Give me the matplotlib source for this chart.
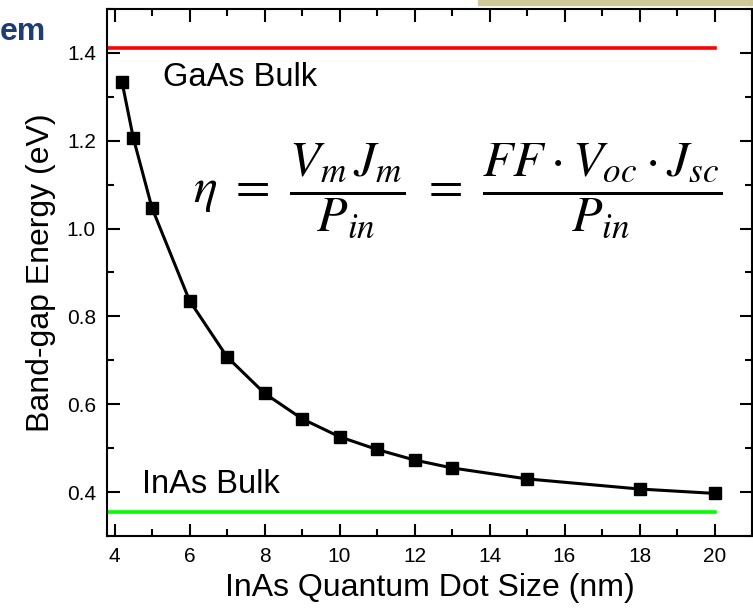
import matplotlib

matplotlib.use("Agg")
import matplotlib.pyplot as plt
from matplotlib.patches import Rectangle
from matplotlib.ticker import MultipleLocator

plt.rcParams["font.family"] = ["Liberation Sans", "DejaVu Sans"]
plt.rcParams["mathtext.fontset"] = "stix"

# InAs quantum dot size (nm) vs band-gap energy (eV)
dot_size = [4.2, 4.5, 5, 6, 7, 8, 9, 10, 11, 12, 13, 15, 18, 20]
band_gap = [1.334, 1.207, 1.047, 0.836, 0.708, 0.625, 0.567, 0.526,
            0.497, 0.473, 0.455, 0.430, 0.407, 0.397]

# bulk reference levels (eV)
gaas_bulk = 1.411
inas_bulk = 0.354
bulk_x = [3.8, 20]

W, H = 753, 616
fig = plt.figure(figsize=(W / 100, H / 100), dpi=100)
ax = fig.add_axes([107 / W, 1 - 536 / H, (752 - 107) / W, (536 - 9) / H])

ax.plot(bulk_x, [gaas_bulk] * 2, color="#ff0000", lw=2.6, zorder=1)
ax.plot(bulk_x, [inas_bulk] * 2, color="#00ff00", lw=2.6, zorder=1)
ax.plot(dot_size, band_gap, "-s", color="black", lw=2.2, ms=8,
        markerfacecolor="black", zorder=3)

ax.set_xlim(3.8, 21)
ax.set_ylim(0.3, 1.5)
ax.xaxis.set_major_locator(MultipleLocator(2))
ax.xaxis.set_minor_locator(MultipleLocator(1))
ax.yaxis.set_major_locator(MultipleLocator(0.2))
ax.yaxis.set_minor_locator(MultipleLocator(0.1))
ax.yaxis.set_major_formatter(plt.FuncFormatter(lambda v, p: f"{v:.1f}"))
ax.tick_params(which="both", direction="in", top=True, right=True, width=1.5)
ax.tick_params(which="major", length=9, labelsize=15, pad=8)
ax.tick_params(which="minor", length=5)
for s in ax.spines.values():
    s.set_linewidth(1.5)

ax.set_xlabel("InAs Quantum Dot Size (nm)", fontsize=23, labelpad=5)
ax.set_ylabel("Band-gap Energy (eV)", fontsize=23, labelpad=8)

ax.text(5.28, 1.344, "GaAs Bulk", fontsize=23.5, va="center", ha="left")
ax.text(4.73, 0.418, "InAs Bulk", fontsize=23.5, va="center", ha="left")

eq = (r"$\eta\ =\ \dfrac{V_m\,J_m}{P_{in}}"
      r"\ =\ \dfrac{FF\cdot V_{oc}\cdot J_{sc}}{P_{in}}$")
fig.text(458 / W, 1 - 191 / H, eq, fontsize=36, ha="center", va="center")

# clipped slide decorations
fig.text(46 / W, 1 - 40 / H, "em", fontsize=23, fontweight="bold",
         color="#1c3d75", ha="right", va="baseline")
fig.patches.append(Rectangle((478 / W, 1 - 5 / H), 1, 5 / H,
                             transform=fig.transFigure, color="#cdca97"))

fig.savefig("out.png", dpi=100)
